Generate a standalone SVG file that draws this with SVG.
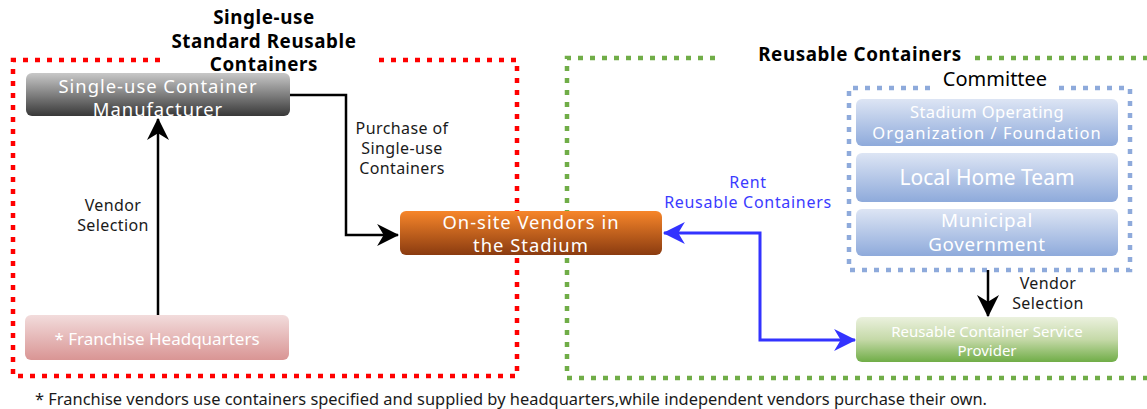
<svg xmlns="http://www.w3.org/2000/svg" width="1147" height="409" viewBox="0 0 1147 409">
<style>
.t{font-family:"Noto Sans","Open Sans","DejaVu Sans",sans-serif}
.title{font-size:18.8px;font-weight:bold;fill:#000;text-anchor:middle;letter-spacing:0.6px}
.wt{fill:#fff;text-anchor:middle}
.lbl{font-size:16px;fill:#1a1a1a;text-anchor:middle;letter-spacing:0.4px}
.blbl{font-size:16px;fill:#3b3bff;text-anchor:middle;letter-spacing:0.7px}
.conn{fill:none;stroke:#000;stroke-width:2.5}
</style>
<defs>
<linearGradient id="gGray" x1="0" y1="0" x2="0" y2="1"><stop offset="0" stop-color="#c8c8c8"/><stop offset="1" stop-color="#383838"/></linearGradient>
<linearGradient id="gOrange" x1="0" y1="0" x2="0" y2="1"><stop offset="0" stop-color="#f7862a"/><stop offset="1" stop-color="#8a3b10"/></linearGradient>
<linearGradient id="gPink" x1="0" y1="0" x2="0" y2="1"><stop offset="0" stop-color="#f2dcdc"/><stop offset="1" stop-color="#d99594"/></linearGradient>
<linearGradient id="gBlue" x1="0" y1="0" x2="0" y2="1"><stop offset="0" stop-color="#dde5f4"/><stop offset="1" stop-color="#8eaadb"/></linearGradient>
<linearGradient id="gGreen" x1="0" y1="0" x2="0" y2="1"><stop offset="0" stop-color="#ebf1de"/><stop offset="0.5" stop-color="#c5d9a8"/><stop offset="1" stop-color="#70ad47"/></linearGradient>
<marker id="ahBlack" viewBox="0 0 20 20" refX="19" refY="10" markerWidth="22" markerHeight="22" markerUnits="userSpaceOnUse" orient="auto">
<path d="M0,0 L20,10 L0,20 L6,10 z" fill="#000"/>
</marker>
<marker id="ahBlue" viewBox="0 0 20 20" refX="19" refY="10" markerWidth="24" markerHeight="22" markerUnits="userSpaceOnUse" orient="auto-start-reverse">
<path d="M0,0 L20,10 L0,20 L6,10 z" fill="#3333ff"/>
</marker>
</defs>
<rect width="1147" height="409" fill="#fff"/>

<g id="groupRed">
<path d="M160,60 H13 V376 H517 V60 H372" fill="none" stroke="#ff0000" stroke-width="4.5" stroke-dasharray="5 7"/>
<text class="t title" x="264" y="24">Single-use</text>
<text class="t title" x="264" y="47.5">Standard Reusable</text>
<text class="t title" x="264" y="71">Containers</text>
</g>

<g id="groupGreen">
<path d="M715,58 H567 V378 H1160 M1160,58 H975" fill="none" stroke="#70ad47" stroke-width="4.5" stroke-dasharray="5 7"/>
<text class="t title" x="860" y="61">Reusable Containers</text>
</g>

<g id="committee">
<path d="M930,88 H849 V270 H1130 V88 H1055" fill="none" stroke="#8eaadb" stroke-width="4.5" stroke-dasharray="5 7"/>
<text class="t" x="995" y="86" font-size="20" fill="#000" text-anchor="middle">Committee</text>
</g>

<g id="connectors">
<path class="conn" d="M290,95 H346 V235 H398" marker-end="url(#ahBlack)"/>
<path class="conn" d="M158,315 V119" marker-end="url(#ahBlack)"/>
<path class="conn" d="M988,270 V316" marker-end="url(#ahBlack)"/>
<path d="M664,233 H760 V340 H855" fill="none" stroke="#3333ff" stroke-width="3" marker-start="url(#ahBlue)" marker-end="url(#ahBlue)"/>
<text class="t lbl" x="402" y="134">Purchase of</text>
<text class="t lbl" x="402" y="154">Single-use</text>
<text class="t lbl" x="402" y="174">Containers</text>
<text class="t lbl" x="113" y="211">Vendor</text>
<text class="t lbl" x="113" y="231">Selection</text>
<text class="t lbl" x="1048" y="289">Vendor</text>
<text class="t lbl" x="1048" y="309">Selection</text>
<text class="t blbl" x="748" y="188">Rent</text>
<text class="t blbl" x="748" y="208">Reusable Containers</text>
</g>

<g id="manufacturer">
<rect x="26" y="73" width="264" height="43" rx="6" fill="url(#gGray)"/>
<text class="t wt" x="158" y="93" font-size="18.4" letter-spacing="1">Single-use Container</text>
<text class="t wt" x="158" y="116" font-size="18.4" letter-spacing="1">Manufacturer</text>
</g>

<g id="franchiseHQ">
<rect x="25" y="315" width="264" height="45" rx="6" fill="url(#gPink)"/>
<text class="t wt" x="157" y="345" font-size="17">* Franchise Headquarters</text>
</g>

<g id="onsiteVendors">
<rect x="400" y="211" width="262" height="44" rx="6" fill="url(#gOrange)"/>
<text class="t wt" x="531" y="229" font-size="18.4" letter-spacing="1">On-site Vendors in</text>
<text class="t wt" x="531" y="252" font-size="18.4" letter-spacing="1">the Stadium</text>
</g>

<g id="stadiumOperating">
<rect x="856" y="99" width="262" height="47" rx="6" fill="url(#gBlue)"/>
<text class="t wt" x="987" y="118" font-size="16.5" letter-spacing="0.4">Stadium Operating</text>
<text class="t wt" x="987" y="139" font-size="16.5" letter-spacing="1">Organization / Foundation</text>
</g>

<g id="localHomeTeam">
<rect x="856" y="153" width="262" height="49" rx="6" fill="url(#gBlue)"/>
<text class="t wt" x="987" y="185" font-size="21">Local Home Team</text>
</g>

<g id="municipalGov">
<rect x="856" y="209" width="262" height="47" rx="6" fill="url(#gBlue)"/>
<text class="t wt" x="987" y="227" font-size="18.8" letter-spacing="0.7">Municipal</text>
<text class="t wt" x="987" y="251" font-size="18.8" letter-spacing="0.7">Government</text>
</g>

<g id="serviceProvider">
<rect x="856" y="317" width="262" height="45" rx="6" fill="url(#gGreen)"/>
<text class="t wt" x="987" y="337" font-size="15">Reusable Container Service</text>
<text class="t wt" x="987" y="356" font-size="15">Provider</text>
</g>

<text class="t" x="35" y="405" font-size="16" fill="#1a1a1a" textLength="952" lengthAdjust="spacingAndGlyphs">* Franchise vendors use containers specified and supplied by headquarters,while independent vendors purchase their own.</text>
</svg>
